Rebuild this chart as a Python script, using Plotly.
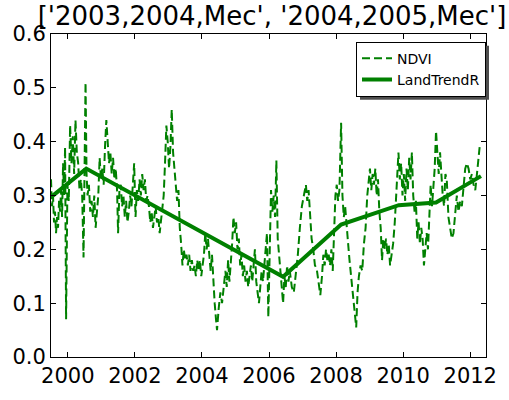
import plotly.graph_objects as go

# NDVI observations (decimal year, value)
ndvi_year = [
    1999.50, 1999.53, 1999.56, 1999.59, 1999.62, 1999.65, 1999.68, 1999.71, 1999.74, 1999.77,
    1999.80, 1999.83, 1999.86, 1999.89, 1999.92, 1999.95, 1999.99, 2000.03, 2000.07, 2000.11,
    2000.15, 2000.19, 2000.23, 2000.27, 2000.31, 2000.35, 2000.39, 2000.43, 2000.47, 2000.50,
    2000.53, 2000.56, 2000.59, 2000.63, 2000.67, 2000.71, 2000.75, 2000.79, 2000.83, 2000.87,
    2000.91, 2000.95, 2000.99, 2001.03, 2001.07, 2001.11, 2001.15, 2001.19, 2001.23, 2001.27,
    2001.31, 2001.35, 2001.39, 2001.43, 2001.47, 2001.50, 2001.54, 2001.58, 2001.62, 2001.66,
    2001.70, 2001.74, 2001.78, 2001.82, 2001.86, 2001.90, 2001.94, 2001.98, 2002.02, 2002.06,
    2002.10, 2002.14, 2002.18, 2002.22, 2002.26, 2002.30, 2002.34, 2002.38, 2002.42, 2002.46,
    2002.50, 2002.54, 2002.58, 2002.62, 2002.66, 2002.70, 2002.74, 2002.78, 2002.82, 2002.86,
    2002.90, 2002.94, 2002.98, 2003.02, 2003.06, 2003.10, 2003.14, 2003.18, 2003.22, 2003.26,
    2003.30, 2003.34, 2003.38, 2003.42, 2003.46, 2003.50, 2003.54, 2003.58, 2003.62, 2003.66,
    2003.70, 2003.74, 2003.78, 2003.82, 2003.86, 2003.90, 2003.94, 2003.98, 2004.02, 2004.06,
    2004.10, 2004.14, 2004.18, 2004.22, 2004.26, 2004.30, 2004.34, 2004.38, 2004.42, 2004.45,
    2004.50, 2004.55, 2004.60, 2004.65, 2004.70, 2004.74, 2004.78, 2004.82, 2004.86, 2004.90,
    2004.94, 2004.98, 2005.02, 2005.06, 2005.10, 2005.14, 2005.18, 2005.22, 2005.26, 2005.30,
    2005.34, 2005.38, 2005.42, 2005.46, 2005.50, 2005.54, 2005.58, 2005.62, 2005.66, 2005.70,
    2005.74, 2005.78, 2005.82, 2005.86, 2005.90, 2005.94, 2005.98, 2006.02, 2006.06, 2006.10,
    2006.14, 2006.18, 2006.22, 2006.26, 2006.30, 2006.34, 2006.38, 2006.42, 2006.46, 2006.50,
    2006.54, 2006.58, 2006.62, 2006.68, 2006.74, 2006.80, 2006.86, 2006.92, 2006.98, 2007.04,
    2007.10, 2007.14, 2007.18, 2007.22, 2007.27, 2007.32, 2007.37, 2007.42, 2007.48, 2007.53,
    2007.58, 2007.62, 2007.66, 2007.70, 2007.74, 2007.78, 2007.82, 2007.86, 2007.90, 2007.94,
    2007.98, 2008.02, 2008.06, 2008.10, 2008.15, 2008.19, 2008.23, 2008.27, 2008.31, 2008.36,
    2008.40, 2008.45, 2008.50, 2008.55, 2008.60, 2008.64, 2008.68, 2008.73, 2008.78, 2008.83,
    2008.88, 2008.93, 2008.97, 2009.01, 2009.05, 2009.09, 2009.13, 2009.17, 2009.21, 2009.25,
    2009.29, 2009.33, 2009.37, 2009.41, 2009.45, 2009.49, 2009.53, 2009.57, 2009.61, 2009.65,
    2009.70, 2009.75, 2009.80, 2009.86, 2009.90, 2009.94, 2009.98, 2010.02, 2010.06, 2010.10,
    2010.14, 2010.18, 2010.22, 2010.26, 2010.30, 2010.34, 2010.38, 2010.42, 2010.46, 2010.50,
    2010.54, 2010.58, 2010.62, 2010.66, 2010.70, 2010.74, 2010.78, 2010.82, 2010.86, 2010.90,
    2010.94, 2010.98, 2011.02, 2011.06, 2011.10, 2011.14, 2011.18, 2011.22, 2011.26, 2011.30,
    2011.35, 2011.40, 2011.45, 2011.50, 2011.55, 2011.60, 2011.65, 2011.70, 2011.75, 2011.80,
    2011.85, 2011.90, 2011.95, 2012.00, 2012.05, 2012.10, 2012.15, 2012.20, 2012.24, 2012.28,
]
ndvi_value = [
    0.33, 0.28, 0.30, 0.25, 0.27, 0.23, 0.26, 0.24, 0.29, 0.27,
    0.31, 0.26, 0.36, 0.30, 0.39, 0.07, 0.32, 0.29, 0.43, 0.36,
    0.41, 0.34, 0.44, 0.38, 0.36, 0.31, 0.33, 0.30, 0.185, 0.33,
    0.51, 0.34, 0.30, 0.32, 0.27, 0.29, 0.26, 0.30, 0.24, 0.27,
    0.30, 0.37, 0.33, 0.35, 0.32, 0.39, 0.44, 0.40, 0.36, 0.38,
    0.34, 0.37, 0.33, 0.35, 0.31, 0.23, 0.31, 0.32, 0.28, 0.30,
    0.26, 0.29, 0.25, 0.27, 0.30, 0.28, 0.32, 0.36, 0.26, 0.31,
    0.29, 0.33, 0.30, 0.34, 0.31, 0.33, 0.29, 0.30, 0.28, 0.25,
    0.27, 0.24, 0.26, 0.28, 0.25, 0.26, 0.23, 0.25, 0.27, 0.30,
    0.36, 0.43, 0.40, 0.35, 0.39, 0.46, 0.38, 0.35, 0.32, 0.29,
    0.31, 0.24, 0.21, 0.17, 0.20, 0.18, 0.19, 0.17, 0.19, 0.16,
    0.18, 0.16, 0.17, 0.15, 0.18, 0.16, 0.18, 0.15, 0.17, 0.19,
    0.23, 0.20, 0.22, 0.18, 0.16, 0.19, 0.13, 0.10, 0.07, 0.05,
    0.09, 0.12, 0.10, 0.13, 0.16, 0.13, 0.18, 0.14, 0.17, 0.21,
    0.26, 0.23, 0.25, 0.20, 0.22, 0.17, 0.19, 0.15, 0.17, 0.14,
    0.16, 0.13, 0.15, 0.17, 0.14, 0.18, 0.20, 0.14, 0.12, 0.10,
    0.13, 0.16, 0.14, 0.17, 0.20, 0.23, 0.074, 0.21, 0.31, 0.27,
    0.30, 0.26, 0.365, 0.22, 0.19, 0.17, 0.14, 0.10, 0.15, 0.13,
    0.17, 0.14, 0.16, 0.13, 0.12, 0.15, 0.19, 0.24, 0.28, 0.30,
    0.32, 0.29, 0.31, 0.27, 0.22, 0.20, 0.17, 0.165, 0.14, 0.115,
    0.15, 0.19, 0.17, 0.20, 0.18, 0.19, 0.17, 0.20, 0.16, 0.22,
    0.30, 0.32, 0.29, 0.31, 0.435, 0.30, 0.26, 0.28, 0.24, 0.21,
    0.18, 0.15, 0.12, 0.09, 0.055, 0.12, 0.15, 0.17, 0.16, 0.21,
    0.24, 0.30, 0.33, 0.35, 0.31, 0.34, 0.32, 0.35, 0.30, 0.33,
    0.27, 0.24, 0.18, 0.22, 0.20, 0.22, 0.19, 0.21, 0.17, 0.19,
    0.21, 0.25, 0.31, 0.38, 0.33, 0.36, 0.30, 0.34, 0.29, 0.35,
    0.31, 0.37, 0.33, 0.38, 0.30, 0.27, 0.29, 0.22, 0.25, 0.21,
    0.24, 0.22, 0.17, 0.21, 0.23, 0.20, 0.27, 0.32, 0.28, 0.31,
    0.35, 0.42, 0.37, 0.34, 0.38, 0.33, 0.30, 0.28, 0.34, 0.33,
    0.26, 0.24, 0.22, 0.23, 0.26, 0.30, 0.27, 0.29, 0.28, 0.31,
    0.35, 0.36, 0.35, 0.33, 0.34, 0.32, 0.31, 0.34, 0.36, 0.39,
]

# LandTrendR fitted vertices
ltr_year = [1999.50, 2000.55, 2006.42, 2008.15, 2009.87, 2010.98, 2012.32]
ltr_value = [0.297, 0.350, 0.149, 0.246, 0.282, 0.287, 0.336]

x_ticks = [2000, 2002, 2004, 2006, 2008, 2010, 2012]
y_ticks = [0.0, 0.1, 0.2, 0.3, 0.4, 0.5, 0.6]

title_text = "['2003,2004,Mec', '2004,2005,Mec']"

green = "#008000"
font_family = "DejaVu Sans"

fig = go.Figure()
fig.add_trace(go.Scatter(
    x=ndvi_year, y=ndvi_value, mode="lines", name="NDVI",
    line=dict(color=green, width=2, dash="8px,4px"),
))
fig.add_trace(go.Scatter(
    x=ltr_year, y=ltr_value, mode="lines", name="LandTrendR",
    line=dict(color=green, width=4),
))

axis_common = dict(
    showgrid=False, zeroline=False,
    showline=True, linecolor="black", linewidth=1, mirror="allticks",
    ticks="inside", ticklen=5, tickwidth=1, tickcolor="black",
    tickfont=dict(family=font_family, size=21, color="black"),
)

W, H = 509, 400
ml, mr, mt, mb = 47, 18, 34, 32
pw, ph = W - ml - mr, H - mt - mb

fig.update_layout(
    width=W, height=H,
    margin=dict(l=ml, r=mr, t=mt, b=mb),
    paper_bgcolor="white", plot_bgcolor="white",
    title=dict(text=title_text, x=272 / W, xanchor="center", y=1 - 16 / H, yanchor="middle",
               yref="container", xref="container",
               font=dict(family=font_family, size=26, color="black")),
    xaxis=dict(range=[1999.5, 2012.47], tickvals=x_ticks, ticktext=[str(v) for v in x_ticks],
               **axis_common),
    yaxis=dict(range=[0, 0.6], tickvals=y_ticks, tickformat=".1f", ticklabelstandoff=0,
               **axis_common),
    legend=dict(x=(491 - ml) / pw, y=1 - (42 - mt) / ph, xanchor="right", yanchor="top",
                bgcolor="white", bordercolor="black", borderwidth=1,
                font=dict(family=font_family, size=14, color="black"),
                itemwidth=30, tracegroupgap=0),
    showlegend=True,
)

# drop shadow behind the legend box (matplotlib 'shadow=True' look)
shadow_js = """
var gd = document.getElementById('{plot_id}');
function addShadow() {
  var leg = gd.querySelector('g.legend');
  if (!leg) return;
  var old = gd.querySelector('rect.legshadow');
  if (old) old.parentNode.removeChild(old);
  var bg = leg.querySelector('rect.bg');
  var m = /translate\\(\\s*([-\\d.]+)[\\s,]+([-\\d.]+)\\s*\\)/.exec(leg.getAttribute('transform') || '');
  if (!bg || !m) return;
  var x = parseFloat(m[1]), y = parseFloat(m[2]);
  var w = parseFloat(bg.getAttribute('width')), h = parseFloat(bg.getAttribute('height'));
  var r = document.createElementNS('http://www.w3.org/2000/svg', 'rect');
  r.setAttribute('class', 'legshadow');
  r.setAttribute('x', x + 4); r.setAttribute('y', y + 4);
  r.setAttribute('width', w); r.setAttribute('height', h);
  r.setAttribute('fill', '#4d4d4d');
  leg.parentNode.insertBefore(r, leg);
}
addShadow();
"""

fig.write_html("out.html", post_script=shadow_js)
